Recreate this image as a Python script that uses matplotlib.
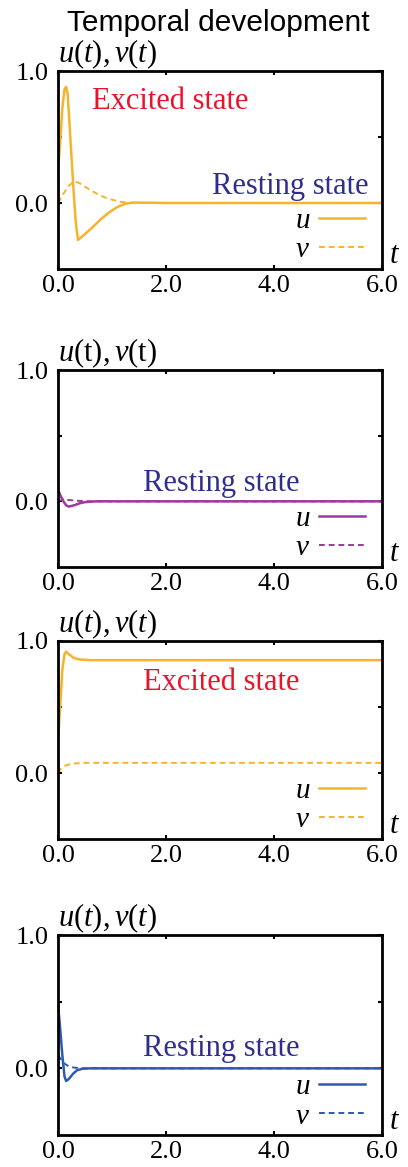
import matplotlib
matplotlib.use('Agg')
import matplotlib.pyplot as plt
from matplotlib.lines import Line2D

plt.rcParams['font.family'] = ['Liberation Serif', 'DejaVu Serif']
plt.rcParams['mathtext.fontset'] = 'custom'
plt.rcParams['mathtext.rm'] = 'Liberation Serif'
plt.rcParams['mathtext.it'] = 'Liberation Serif:italic'

# ---- data ----
# panel 1: excitable pulse, returns to rest
t1_u = [0.0, 0.04, 0.08, 0.12, 0.15, 0.18, 0.21, 0.25, 0.29, 0.33, 0.37, 0.5, 0.65, 0.8, 0.95, 1.1, 1.25, 1.4, 1.7, 2.0, 6.0]
u1 = [0.25, 0.45, 0.72, 0.86, 0.88, 0.82, 0.62, 0.35, 0.08, -0.15, -0.28, -0.235, -0.18, -0.12, -0.07, -0.03, -0.005, 0.003, 0.002, 0.0, 0.0]
t1_v = [0.0, 0.1, 0.2, 0.3, 0.4, 0.55, 0.7, 0.85, 1.0, 1.15, 1.3, 1.5, 6.0]
v1 = [0.0, 0.07, 0.13, 0.165, 0.15, 0.11, 0.075, 0.045, 0.025, 0.01, 0.002, 0.0, 0.0]

# panel 2: small perturbation, rest
t2_u = [0.0, 0.05, 0.1, 0.15, 0.2, 0.3, 0.4, 0.5, 0.7, 6.0]
u2 = [0.09, 0.04, 0.0, -0.03, -0.04, -0.03, -0.015, -0.006, 0.0, 0.0]
t2_v = [0.0, 0.1, 0.2, 0.4, 0.6, 6.0]
v2 = [0.0, 0.015, 0.01, 0.003, 0.0, 0.0]

# panel 3: goes to excited state
t3_u = [0.0, 0.04, 0.08, 0.12, 0.15, 0.2, 0.3, 0.4, 0.6, 6.0]
u3 = [0.25, 0.5, 0.78, 0.9, 0.92, 0.9, 0.87, 0.86, 0.855, 0.855]
t3_v = [0.0, 0.05, 0.1, 0.2, 0.3, 0.5, 6.0]
v3 = [0.0, 0.03, 0.05, 0.065, 0.072, 0.077, 0.077]

# panel 4: decays to rest
t4_u = [0.0, 0.04, 0.08, 0.12, 0.15, 0.2, 0.28, 0.35, 0.45, 0.6, 6.0]
u4 = [0.48, 0.3, 0.1, -0.06, -0.095, -0.08, -0.04, -0.015, -0.003, 0.0, 0.0]
t4_v = [0.0, 0.05, 0.1, 0.2, 0.3, 0.45, 6.0]
v4 = [0.1, 0.07, 0.04, 0.015, 0.005, 0.0, 0.0]

orange = '#F7B32B'
purple = '#9B3B9B'
blue = '#2C5AB4'
red = '#E8142B'
navy = '#2E2E8E'

panels = [
    (t1_u, u1, t1_v, v1, orange, r'$u(t),v(t)$',
     [('Excited state', red, 2.07, 0.71), ('Resting state', navy, 4.3, 0.07)]),
    (t2_u, u2, t2_v, v2, purple, r'$u(\mathrm{t}),v(\mathrm{t})$',
     [('Resting state', navy, 3.02, 0.075)]),
    (t3_u, u3, t3_v, v3, orange, r'$u(t),v(t)$',
     [('Excited state', red, 3.02, 0.63)]),
    (t4_u, u4, t4_v, v4, blue, r'$u(t),v(t)$',
     [('Resting state', navy, 3.02, 0.09)]),
]

# axes boxes in pixels: top, bottom
boxes = [(71, 269), (370, 567), (641, 839), (935, 1135)]
W, H = 408, 1167

fig = plt.figure(figsize=(W / 100, H / 100), dpi=100)
fig.text(0.535, 1 - 31 / H, 'Temporal development', ha='center', va='baseline',
         family='Liberation Sans', fontsize=21.5)

for (tu, u, tv, v, col, ylab, notes), (top, bot) in zip(panels, boxes):
    ax = fig.add_axes([58 / W, 1 - bot / H, 324 / W, (bot - top) / H])
    ax.plot(tu, u, color=col, lw=1.8, solid_capstyle='round')
    ax.plot(tv, v, color=col, lw=1.4, ls=(0, (3, 2)))
    ax.set_xlim(0, 6)
    ax.set_ylim(-0.5, 1.0)
    ax.set_xticks([0, 2, 4, 6])
    ax.set_xticklabels(['0.0', '2.0', '4.0', '6.0'])
    ax.set_yticks([0.0, 0.5, 1.0])
    ax.set_yticklabels(['0.0', '', '1.0'])
    ax.tick_params(direction='in', top=True, right=True, length=3, width=1.5,
                   labelsize=19, pad=7)
    ax.tick_params(axis='x', pad=4)
    for s in ax.spines.values():
        s.set_linewidth(2)
    ax.text(0.0, 1.0, ylab, transform=ax.transAxes, ha='left', va='bottom', fontsize=22)
    ax.text(1.022, 0.03, r'$t$', transform=ax.transAxes, ha='left', va='baseline', fontsize=22)
    for txt, c, x, y in notes:
        ax.text(x, y, txt, color=c, ha='center', va='baseline', fontsize=22)
    handles = [Line2D([], [], color=col, lw=1.8), Line2D([], [], color=col, lw=1.4, ls=(0, (3, 2)))]
    ax.legend(handles, [r'$u$', r'$v$'], loc='lower right', bbox_to_anchor=(1.012, -0.075),
              frameon=False, markerfirst=False, handlelength=1.6, handletextpad=0.3,
              labelspacing=0.1, borderpad=0.2, fontsize=21)

fig.savefig('out.png', dpi=100)
